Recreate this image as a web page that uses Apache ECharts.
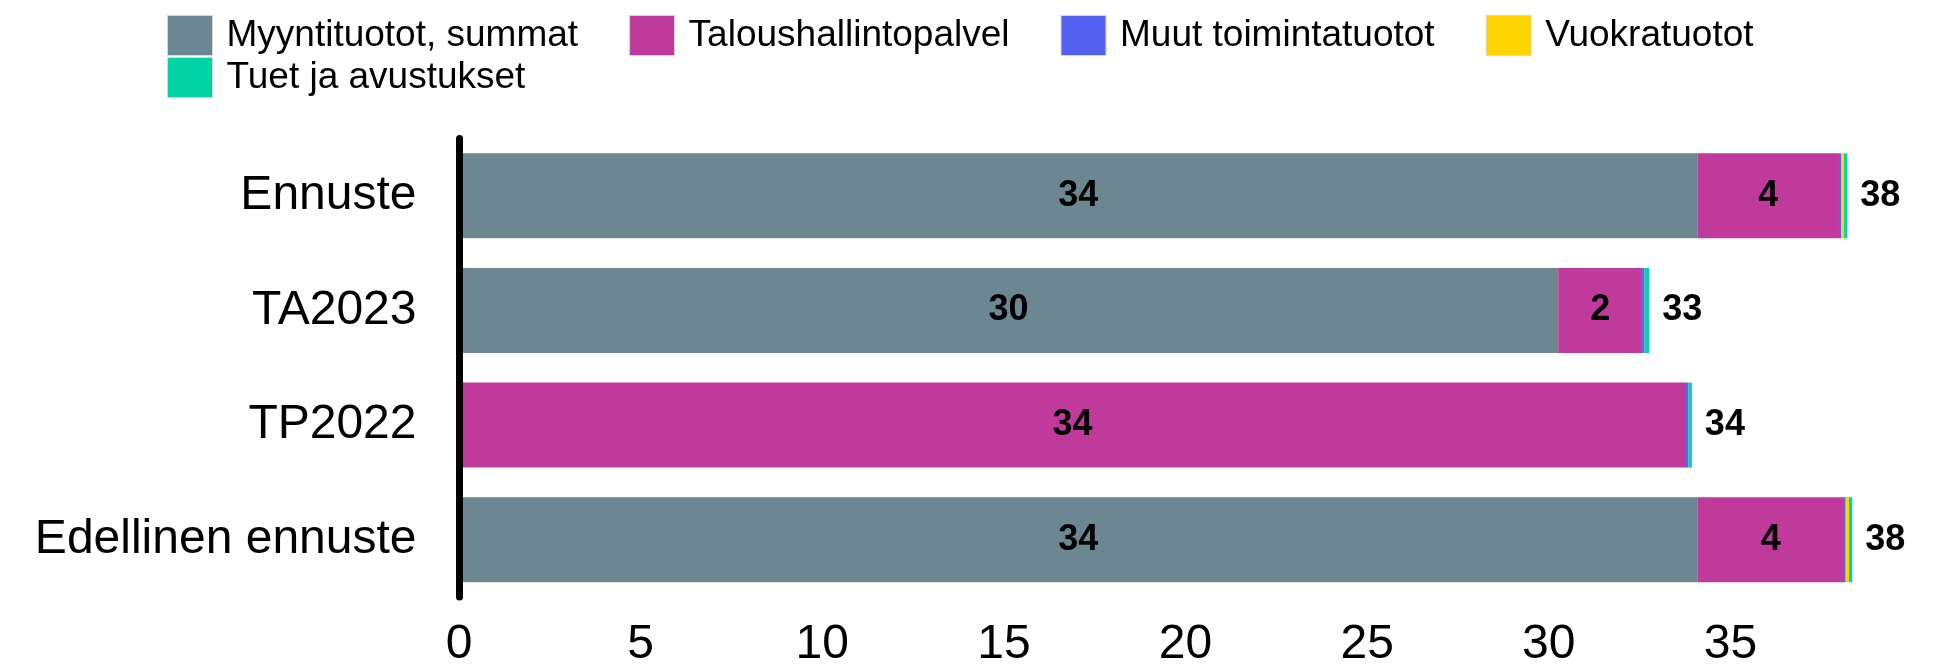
<!DOCTYPE html>
<html>
<head>
<meta charset="utf-8">
<script src="https://cdn.jsdelivr.net/npm/echarts@6/dist/echarts.min.js"></script>
<style>
  html, body { margin: 0; padding: 0; background: #ffffff; }
  #chart { width: 1942px; height: 669px; }
</style>
</head>
<body>
<div id="chart"></div>
<script>
// Revenue breakdown (M€) per scenario, stacked horizontally
const categories = ['Ennuste', 'TA2023', 'TP2022', 'Edellinen ennuste'];
const seriesNames = ['Myyntituotot, summat', 'Taloushallintopalvel', 'Muut toimintatuotot', 'Vuokratuotot', 'Tuet ja avustukset'];
const myyntituotot = [34.09, 30.26, 0, 34.09];
const taloushallinto = [3.90, 2.31, 33.78, 4.04];
const muutTuotot = [0.065, 0.065, 0.07, 0.045];
const vuokratuotot = [0.075, 0, 0, 0.09];
const tuetAvustukset = [0.09, 0.13, 0.09, 0.09];
const xTicks = [0, 5, 10, 15, 20, 25, 30, 35];

const colors = ['#6c8792', '#bf3a9b', '#5561f0', '#ffd400', '#00d3a5'];
const FONT = "'Liberation Sans', Arial, sans-serif";

const valueSets = [myyntituotot, taloushallinto, muutTuotot, vuokratuotot, tuetAvustukset];
const totals = categories.map((_, i) => valueSets.reduce((s, arr) => s + arr[i], 0));

const insideLabel = {
  show: true,
  position: 'inside',
  color: '#000',
  fontFamily: FONT,
  fontWeight: 'bold',
  fontSize: 36,
  formatter: p => (p.value >= 0.5 ? String(Math.round(p.value)) : '')
};

const series = seriesNames.map((name, k) => {
  const s = {
    name: name,
    type: 'bar',
    stack: 'total',
    barWidth: 85,
    data: valueSets[k],
    itemStyle: { color: colors[k] },
    emphasis: { disabled: true }
  };
  if (k < 2) {
    s.label = insideLabel;
  }
  if (k === seriesNames.length - 1) {
    // stack total written after the end of each bar
    s.label = {
      show: true,
      position: 'right',
      distance: 13,
      color: '#000',
      fontFamily: FONT,
      fontWeight: 'bold',
      fontSize: 36,
      formatter: p => String(Math.round(totals[p.dataIndex]))
    };
  }
  return s;
});

const legendCommon = {
  left: 162,
  itemWidth: 45,
  itemHeight: 40,
  itemGap: 51,
  icon: 'rect',
  selectedMode: false,
  itemStyle: { borderColor: '#d8d8d8', borderWidth: 1 },
  textStyle: { color: '#000', fontFamily: FONT, fontSize: 37, padding: [0, 0, 0, 9] }
};

const chart = echarts.init(document.getElementById('chart'), null, { renderer: 'canvas' });
chart.setOption({
  animation: false,
  backgroundColor: '#ffffff',
  color: colors,
  legend: [
    Object.assign({}, legendCommon, { top: 10, data: seriesNames.slice(0, 4) }),
    Object.assign({}, legendCommon, { top: 52, data: seriesNames.slice(4) })
  ],
  grid: { left: 459, right: 30, top: 138.5, height: 458.7, containLabel: false },
  xAxis: {
    type: 'value',
    min: 0,
    max: 40,
    interval: 5,
    axisLine: { show: false },
    axisTick: { show: false },
    splitLine: { show: false },
    axisLabel: {
      showMaxLabel: false,
      margin: 24,
      color: '#000',
      fontFamily: FONT,
      fontSize: 48,
      formatter: v => (xTicks.indexOf(v) >= 0 ? String(v) : '')
    }
  },
  yAxis: {
    type: 'category',
    data: categories,
    inverse: true,
    offset: 2.5,
    z: 5,
    axisLine: { show: true, lineStyle: { color: '#000', width: 7 } },
    axisTick: { show: false },
    splitLine: { show: false },
    axisLabel: {
      margin: 40,
      color: '#000',
      fontFamily: FONT,
      fontSize: 48
    }
  },
  series: series
});
</script>
</body>
</html>
